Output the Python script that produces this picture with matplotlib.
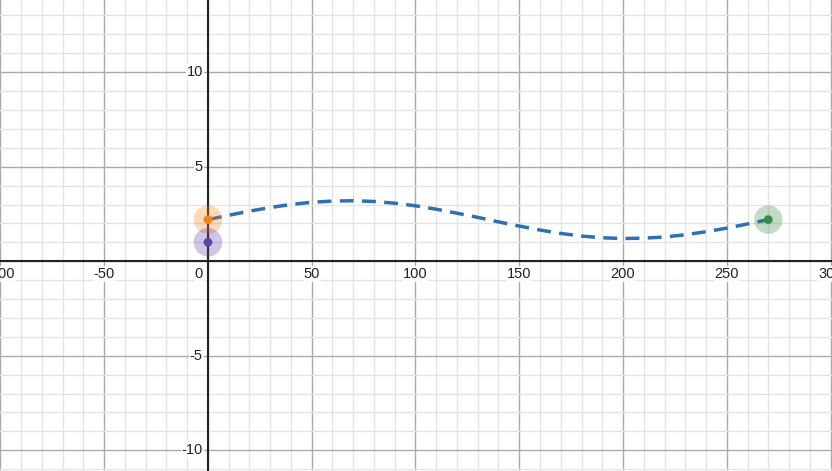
import numpy as np
import matplotlib.pyplot as plt

# curve (x every 10 units)
curveX = [0, 10, 20, 30, 40, 50, 60, 70, 80, 90, 100, 110, 120, 130, 140,
          150, 160, 170, 180, 190, 200, 210, 220, 230, 240, 250, 260, 270]
curveY = [2.20, 2.43, 2.65, 2.84, 3.00, 3.12, 3.18, 3.20, 3.16, 3.07, 2.93, 2.75, 2.54, 2.32, 2.08,
          1.86, 1.65, 1.47, 1.33, 1.24, 1.20, 1.22, 1.28, 1.40, 1.56, 1.75, 1.97, 2.20]

pointX = [0, 0, 270]
pointY = [2.2, 1.0, 2.2]
pointColors = ["#fa7e19", "#6042a6", "#388c46"]

xTickLabels = [-100, -50, 0, 50, 100, 150, 200, 250, 300]
yTickLabels = [-10, -5, 5, 10]

fig = plt.figure(figsize=(8.32, 4.71), dpi=100)
ax = fig.add_axes([0, 0, 1, 1])
ax.set_xlim(-100.2, 300.7)
ax.set_ylim(-11.1, 13.82)

# grid
for gx in np.arange(-100, 301, 10):
    major = gx % 50 == 0
    ax.axvline(gx, color="#aaaaaa" if major else "#e4e4e4", lw=1.0, zorder=0)
for gy in np.arange(-11, 14, 1):
    major = gy % 5 == 0
    ax.axhline(gy, color="#aaaaaa" if major else "#e4e4e4", lw=1.0, zorder=0)
ax.axhline(0, color="#222222", lw=1.5, zorder=1)
ax.axvline(0, color="#222222", lw=1.5, zorder=1)

bbox = dict(facecolor="white", edgecolor="none", pad=0.6, alpha=0.85)
txt = dict(fontsize=10.5, color="#222222", family="Liberation Sans", bbox=bbox, zorder=2)
for v in xTickLabels:
    if v == 0:
        ax.text(-2.5, -0.3, "0", ha="right", va="top", **txt)
    else:
        ax.text(v, -0.3, str(v), ha="center", va="top", **txt)
for v in yTickLabels:
    ax.text(-2.5, v, str(v), ha="right", va="center", **txt)

ax.plot(curveX, curveY, color="#2d70b3", lw=2.5, ls=(0, (4, 2.4)), zorder=3)

for px, py, c in zip(pointX, pointY, pointColors):
    ax.scatter(px, py, s=420, color=c, alpha=0.3, edgecolors="none", zorder=4)
    ax.scatter(px, py, s=40, color=c, edgecolors="none", zorder=5)

ax.axis("off")
fig.savefig("out.png", dpi=100)
